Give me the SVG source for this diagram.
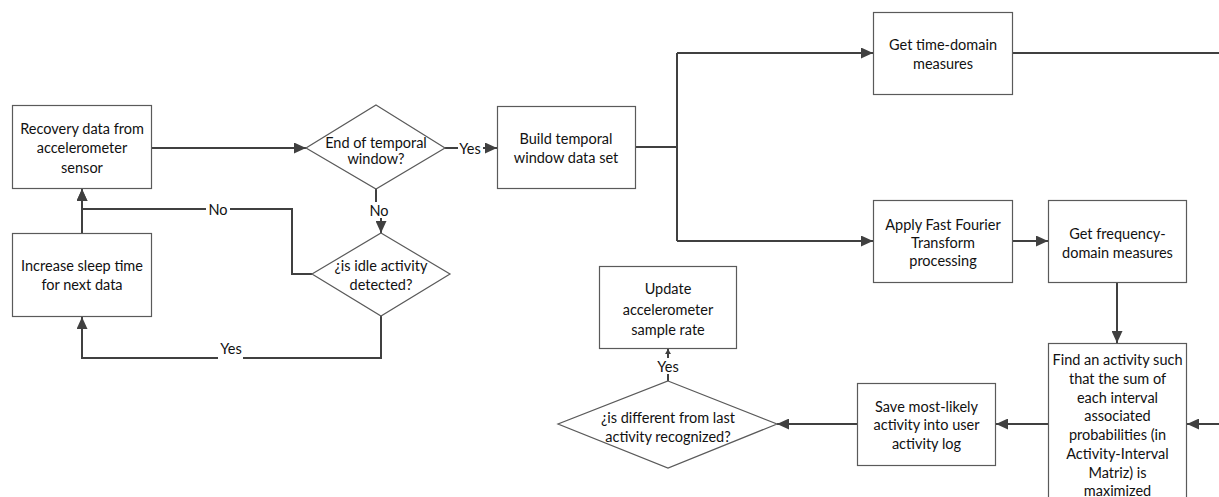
<svg xmlns="http://www.w3.org/2000/svg" width="1219" height="497" viewBox="0 0 1219 497">
<style>
.box{fill:#fff;stroke:#5a5a5a;stroke-width:1.2}
.t{font-family:Lato,"Liberation Sans",sans-serif;font-size:14.5px;fill:#111;text-anchor:middle;dominant-baseline:central}
.c{fill:none;stroke:#404040;stroke-width:2}
.lb{fill:#fff;stroke:none}
</style>
<defs>
<marker id="ah" markerUnits="userSpaceOnUse" markerWidth="13" markerHeight="11" refX="12" refY="5.5" orient="auto"><path d="M0,0 L12,5.5 L0,11 z" fill="#404040"/></marker>
<marker id="ahs" markerUnits="userSpaceOnUse" markerWidth="6" markerHeight="6" refX="5" refY="3" orient="auto"><path d="M0,0 L5,3 L0,6 z" fill="#404040"/></marker>
</defs>
<g id="connectors">
<path class="c" d="M152,148 H306" marker-end="url(#ah)"/>
<path class="c" d="M445,148 H497" marker-end="url(#ah)"/>
<path class="c" d="M376,189 V210 H381 V233" marker-end="url(#ah)"/>
<path class="c" d="M312,274 H292 V209 H82 V189" marker-end="url(#ah)"/>
<path class="c" d="M82,233 V189" marker-end="url(#ah)"/>
<path class="c" d="M381,316 V358 H82 V317" marker-end="url(#ah)"/>
<path class="c" d="M636,147 H677"/>
<path class="c" d="M677,53 V241"/>
<path class="c" d="M677,53 H873" marker-end="url(#ah)"/>
<path class="c" d="M677,241 H873" marker-end="url(#ah)"/>
<path class="c" d="M1013,53 H1219"/>
<path class="c" d="M1013,241 H1048" marker-end="url(#ah)"/>
<path class="c" d="M1117,283 V343" marker-end="url(#ah)"/>
<path class="c" d="M1219,424 H1187" marker-end="url(#ah)"/>
<path class="c" d="M1048,424 H996" marker-end="url(#ah)"/>
<path class="c" d="M857,424 H777" marker-end="url(#ah)"/>
<path class="c" d="M668,381 V349" marker-end="url(#ahs)" stroke-width="1.5"/>
<rect class="lb" x="458" y="140" width="25" height="16"/>
<text class="t" x="470" y="148">Yes</text>
<rect class="lb" x="368" y="202" width="22" height="16"/>
<text class="t" x="379" y="210">No</text>
<rect class="lb" x="206" y="201" width="24" height="16"/>
<text class="t" x="218" y="209">No</text>
<rect class="lb" x="218" y="352" width="25" height="10"/>
<text class="t" x="231" y="348">Yes</text>
<rect class="lb" x="655" y="358" width="26" height="16"/>
<text class="t" x="668" y="366">Yes</text>
</g>
<g id="recovery">
<rect class="box" x="12.5" y="105.5" width="139" height="83"/>
<text class="t" x="82" y="128">Recovery data from</text>
<text class="t" x="82" y="147.5">accelerometer</text>
<text class="t" x="82" y="167">sensor</text>
</g>
<g id="increase">
<rect class="box" x="12.5" y="233.5" width="139" height="83"/>
<text class="t" x="82" y="265.5">Increase sleep time</text>
<text class="t" x="82" y="284.5">for next data</text>
</g>
<g id="end-window">
<polygon class="box" points="376,105 445,148 376,189 306,148"/>
<text class="t" x="376" y="142">End of temporal</text>
<text class="t" x="376" y="158">window?</text>
</g>
<g id="idle">
<polygon class="box" points="381,233 450,274 381,316 312,274"/>
<text class="t" x="381" y="265.5">¿is idle activity</text>
<text class="t" x="381" y="284.5">detected?</text>
</g>
<g id="build">
<rect class="box" x="497.5" y="106.5" width="138" height="82"/>
<text class="t" x="566" y="138">Build temporal</text>
<text class="t" x="566" y="157">window data set</text>
</g>
<g id="time-domain">
<rect class="box" x="873.5" y="12.5" width="139" height="82"/>
<text class="t" x="943" y="44">Get time-domain</text>
<text class="t" x="943" y="63">measures</text>
</g>
<g id="fft">
<rect class="box" x="873.5" y="200.5" width="139" height="82"/>
<text class="t" x="943" y="224">Apply Fast Fourier</text>
<text class="t" x="943" y="242">Transform</text>
<text class="t" x="943" y="260">processing</text>
</g>
<g id="frequency">
<rect class="box" x="1048.5" y="200.5" width="138" height="82"/>
<text class="t" x="1117.5" y="233">Get frequency-</text>
<text class="t" x="1117.5" y="252">domain measures</text>
</g>
<g id="find">
<rect class="box" x="1048.5" y="343.5" width="138" height="170"/>
<text class="t" x="1117.5" y="359">Find an activity such</text>
<text class="t" x="1117.5" y="378">that the sum of</text>
<text class="t" x="1117.5" y="397">each interval</text>
<text class="t" x="1117.5" y="415">associated</text>
<text class="t" x="1117.5" y="434">probabilities (in</text>
<text class="t" x="1117.5" y="453">Activity-Interval</text>
<text class="t" x="1117.5" y="472">Matriz) is</text>
<text class="t" x="1117.5" y="490">maximized</text>
</g>
<g id="save">
<rect class="box" x="857.5" y="383.5" width="138" height="82"/>
<text class="t" x="926.5" y="406">Save most-likely</text>
<text class="t" x="926.5" y="424.5">activity into user</text>
<text class="t" x="926.5" y="443">activity log</text>
</g>
<g id="different">
<polygon class="box" points="668,381 777,424 668,468 558,424"/>
<text class="t" x="668" y="417">¿is different from last</text>
<text class="t" x="668" y="436">activity recognized?</text>
</g>
<g id="update">
<rect class="box" x="599.5" y="266.5" width="137" height="82"/>
<text class="t" x="668" y="288">Update</text>
<text class="t" x="668" y="309">accelerometer</text>
<text class="t" x="668" y="329">sample rate</text>
</g>
</svg>
